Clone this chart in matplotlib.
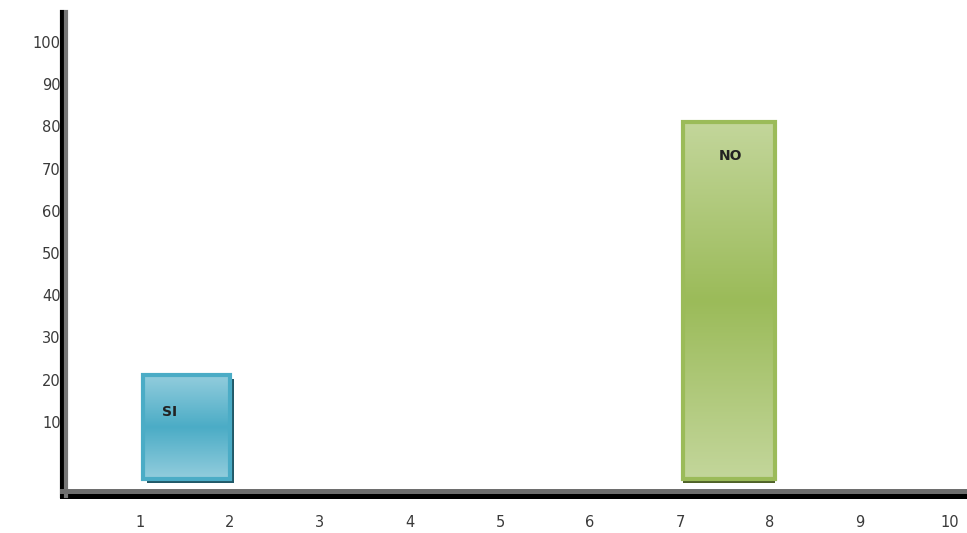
import matplotlib
matplotlib.use("Agg")
import matplotlib.pyplot as plt
import matplotlib.transforms as mtransforms
from matplotlib.colors import LinearSegmentedColormap
from matplotlib.lines import Line2D
from matplotlib.patches import Rectangle
import numpy as np

# data
labels = ["SI", "NO"]
starts = [1, 7]
values = [21, 81]
x_ticks = list(range(1, 11))
y_ticks = list(range(10, 101, 10))

# style
BASE = -3.5
INSET = 0.03
light = ["#93CDDD", "#C3D69B"]
dark = ["#4BACC6", "#9BBB59"]
shadow = ["#215968", "#4F6228"]
shadow_off = [(4, -4), (0, -4)]
widths = [1.0, 1.05]
text_pos = [(1.33, 12.3), (7.56, 73)]

fig = plt.figure(figsize=(9.67, 5.33), dpi=100)
ax = fig.add_axes([62 / 967, 1 - 495.5 / 533, 1 - 62 / 967, (495.5 - 12) / 533])

for i in range(len(labels)):
    x0, w, h = starts[i] + INSET, widths[i] - INSET, values[i] - BASE
    dx, dy = shadow_off[i]
    off = mtransforms.ScaledTranslation(dx / 100, dy / 100, fig.dpi_scale_trans)
    ax.add_patch(Rectangle((x0, BASE), w, h, facecolor=shadow[i], edgecolor="none",
                           transform=ax.transData + off, zorder=1))
    rect = Rectangle((x0, BASE), w, h, facecolor="none", edgecolor=dark[i],
                     linewidth=3, zorder=3)
    ax.add_patch(rect)
    cmap = LinearSegmentedColormap.from_list("g%d" % i, [light[i], dark[i], light[i]])
    grad = np.linspace(0, 1, 256).reshape(-1, 1)
    im = ax.imshow(grad, cmap=cmap, aspect="auto", extent=(x0, x0 + w, BASE, values[i]),
                   zorder=2, interpolation="bilinear")
    clip = Rectangle((x0, BASE), w, h, transform=ax.transData)
    im.set_clip_path(clip)
    ax.text(text_pos[i][0], text_pos[i][1], labels[i], fontsize=10, fontweight="bold",
            color="#222222", ha="center", va="center", zorder=4)

ax.set_xlim((62 - 50) / 90, (967 - 50) / 90)
ax.set_ylim((464 - 495.5) / 4.22, (464 - 12) / 4.22)

for s in ["top", "right"]:
    ax.spines[s].set_visible(False)
ax.spines["left"].set_color("black")
ax.spines["left"].set_linewidth(3)
ax.spines["bottom"].set_color("black")
ax.spines["bottom"].set_linewidth(3.6)

# gray shadow lines next to axes
gx = mtransforms.ScaledTranslation(4 / 100, 0, fig.dpi_scale_trans)
gy = mtransforms.ScaledTranslation(0, 5 / 100, fig.dpi_scale_trans)
ax.add_line(Line2D([0, 0], [0, 1], transform=ax.transAxes + gx, color="#777777",
                   linewidth=3, clip_on=False, zorder=5))
ax.add_line(Line2D([0, 1], [0, 0], transform=ax.transAxes + gy, color="#6e6e6e",
                   linewidth=3.6, clip_on=False, zorder=5))

ax.set_xticks(x_ticks)
ax.set_xticklabels([str(v) for v in x_ticks])
ax.set_yticks(y_ticks)
ax.set_yticklabels([str(v) for v in y_ticks])
ax.tick_params(axis="both", length=0, labelsize=10.5, labelcolor="#3a3a3a")
ax.tick_params(axis="x", pad=14)
ax.tick_params(axis="y", pad=1)

fig.savefig("out.png", dpi=100)
